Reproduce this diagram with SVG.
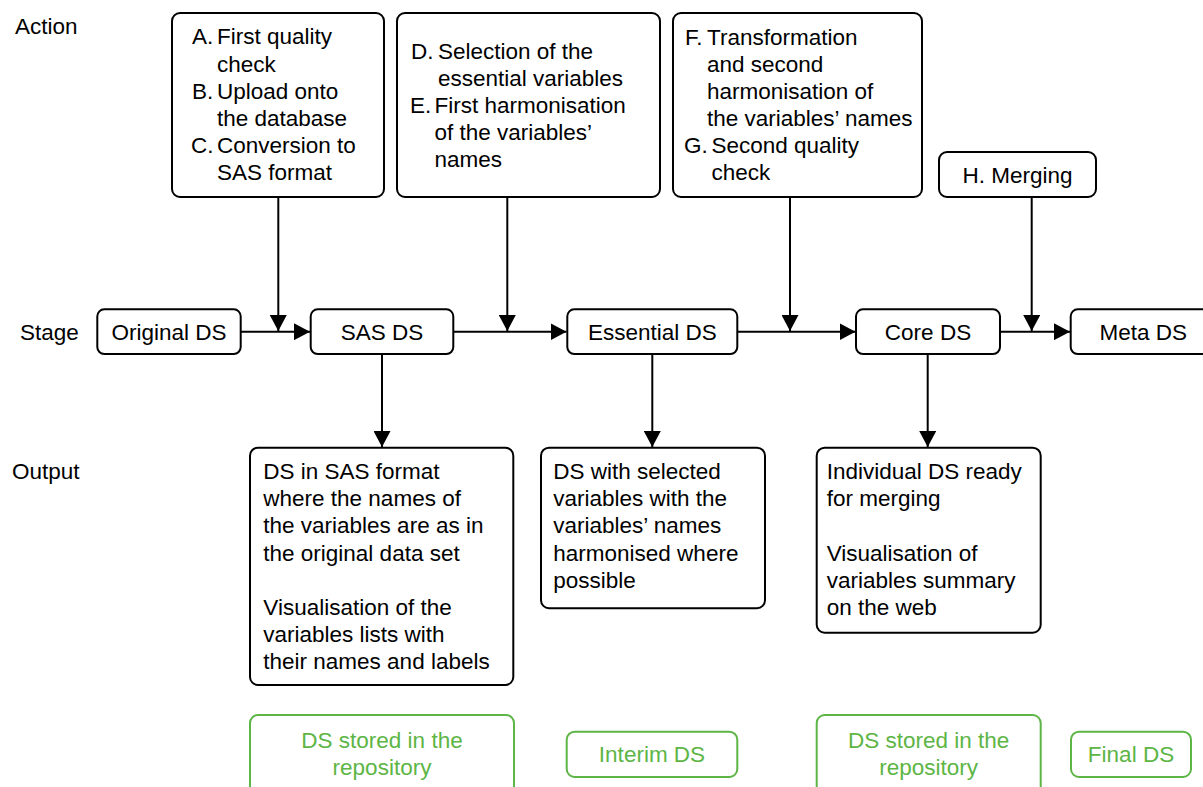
<svg xmlns="http://www.w3.org/2000/svg" width="1203" height="787" viewBox="0 0 1203 787">
<style>
text{font-family:"Liberation Sans","Open Sans",sans-serif;font-size:22.5px;fill:#000}
.box{fill:#fff;stroke:#000;stroke-width:2}
.gbox{fill:#fff;stroke:#5db545;stroke-width:2}
.g{fill:#5db545}
.c{text-anchor:middle}
.ln{fill:none;stroke:#000;stroke-width:2}
</style>
<defs>
<marker id="ah" markerUnits="userSpaceOnUse" markerWidth="17" markerHeight="17" refX="16" refY="8.5" orient="auto">
<path d="M0,0 L16,8.5 L0,17 z" fill="#000"/>
</marker>
</defs>
<g id="labels">
<text x="15" y="34">Action</text>
<text x="20" y="339.5">Stage</text>
<text x="12" y="479">Output</text>
</g>
<g id="connectors">
<path class="ln" d="M278.3,197 V331" marker-end="url(#ah)"/>
<path class="ln" d="M507.3,197 V331" marker-end="url(#ah)"/>
<path class="ln" d="M790,197 V331" marker-end="url(#ah)"/>
<path class="ln" d="M1031.7,197 V331" marker-end="url(#ah)"/>
<path class="ln" d="M240.7,331.7 H310" marker-end="url(#ah)"/>
<path class="ln" d="M453.3,331.7 H566.5" marker-end="url(#ah)"/>
<path class="ln" d="M737.3,331.7 H855.5" marker-end="url(#ah)"/>
<path class="ln" d="M1000,331.7 H1070" marker-end="url(#ah)"/>
<path class="ln" d="M382,354 V447" marker-end="url(#ah)"/>
<path class="ln" d="M652.3,354 V447" marker-end="url(#ah)"/>
<path class="ln" d="M927.7,354 V447" marker-end="url(#ah)"/>
</g>
<g id="action-abc">
<rect class="box" x="172" y="13" width="212" height="184" rx="8"/>
<text><tspan x="192" y="44.3">A.</tspan><tspan x="217" y="44.3">First quality</tspan><tspan x="217" y="71.5">check</tspan><tspan x="192" y="98.7">B.</tspan><tspan x="217" y="98.7">Upload onto</tspan><tspan x="217" y="125.9">the database</tspan><tspan x="191" y="153.1">C.</tspan><tspan x="217" y="153.1">Conversion to</tspan><tspan x="217" y="180.3">SAS format</tspan></text>
</g>
<g id="action-de">
<rect class="box" x="397" y="13" width="263" height="184" rx="8"/>
<text><tspan x="411" y="58.5">D.</tspan><tspan x="438" y="58.5">Selection of the</tspan><tspan x="438" y="85.5">essential variables</tspan><tspan x="410" y="112.5">E.</tspan><tspan x="434.5" y="112.5">First harmonisation</tspan><tspan x="434.5" y="139.5">of the variables’</tspan><tspan x="434.5" y="166.5">names</tspan></text>
</g>
<g id="action-fg">
<rect class="box" x="673" y="13" width="249" height="184" rx="8"/>
<text><tspan x="685" y="45">F.</tspan><tspan x="707" y="45">Transformation</tspan><tspan x="707" y="72">and second</tspan><tspan x="707" y="99">harmonisation of</tspan><tspan x="707" y="126">the variables’ names</tspan><tspan x="684" y="153">G.</tspan><tspan x="711.5" y="153">Second quality</tspan><tspan x="711.5" y="180">check</tspan></text>
</g>
<g id="action-h">
<rect class="box" x="939" y="152" width="157" height="45" rx="8"/>
<text class="c" x="1017.5" y="183">H. Merging</text>
</g>
<g id="stage-original">
<rect class="box" x="97.3" y="309.3" width="143.4" height="44.7" rx="7"/>
<text class="c" x="169" y="339.5">Original DS</text>
</g>
<g id="stage-sas">
<rect class="box" x="310.7" y="309.3" width="142.6" height="44.7" rx="7"/>
<text class="c" x="382" y="339.5">SAS DS</text>
</g>
<g id="stage-essential">
<rect class="box" x="567.3" y="309.3" width="170" height="44.7" rx="7"/>
<text class="c" x="652.3" y="339.5">Essential DS</text>
</g>
<g id="stage-core">
<rect class="box" x="856" y="309.3" width="144" height="44.7" rx="7"/>
<text class="c" x="928" y="339.5">Core DS</text>
</g>
<g id="stage-meta">
<rect class="box" x="1070.7" y="309.3" width="145" height="44.7" rx="7"/>
<text class="c" x="1143.3" y="339.5">Meta DS</text>
</g>
<g id="output-sas">
<rect class="box" x="250" y="447.7" width="263.3" height="237.3" rx="8"/>
<text><tspan x="263.3" y="479">DS in SAS format</tspan><tspan x="263.3" y="506.2">where the names of</tspan><tspan x="263.3" y="533.4">the variables are as in</tspan><tspan x="263.3" y="560.6">the original data set</tspan><tspan x="263.3" y="615">Visualisation of the</tspan><tspan x="263.3" y="642.2">variables lists with</tspan><tspan x="263.3" y="669.4">their names and labels</tspan></text>
</g>
<g id="output-essential">
<rect class="box" x="541" y="447.7" width="224" height="160.5" rx="8"/>
<text><tspan x="553.3" y="479">DS with selected</tspan><tspan x="553.3" y="506.2">variables with the</tspan><tspan x="553.3" y="533.4">variables’ names</tspan><tspan x="553.3" y="560.6">harmonised where</tspan><tspan x="553.3" y="587.8">possible</tspan></text>
</g>
<g id="output-core">
<rect class="box" x="816.7" y="447.7" width="224" height="185" rx="8"/>
<text><tspan x="826.7" y="479">Individual DS ready</tspan><tspan x="826.7" y="506.2">for merging</tspan><tspan x="826.7" y="560.6">Visualisation of</tspan><tspan x="826.7" y="587.8">variables summary</tspan><tspan x="826.7" y="615">on the web</tspan></text>
</g>
<g id="store-1">
<rect class="gbox" x="250" y="715" width="264" height="90" rx="8"/>
<text class="c g"><tspan x="382" y="747.7">DS stored in the</tspan><tspan x="382" y="774.9">repository</tspan></text>
</g>
<g id="store-interim">
<rect class="gbox" x="566.7" y="731.7" width="170.6" height="45.3" rx="8"/>
<text class="c g" x="652" y="762">Interim DS</text>
</g>
<g id="store-2">
<rect class="gbox" x="816.7" y="715" width="224" height="90" rx="8"/>
<text class="c g"><tspan x="928.7" y="747.7">DS stored in the</tspan><tspan x="928.7" y="774.9">repository</tspan></text>
</g>
<g id="store-final">
<rect class="gbox" x="1071" y="731.7" width="120" height="45.3" rx="8"/>
<text class="c g" x="1131" y="762">Final DS</text>
</g>
</svg>
